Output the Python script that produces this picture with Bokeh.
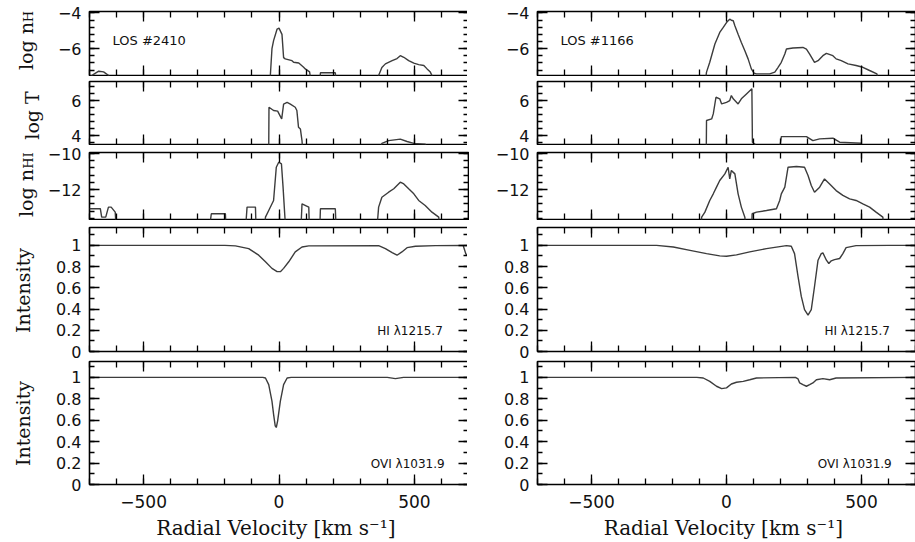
import math
from bokeh.plotting import figure
from bokeh.models import Range1d, LinearAxis, SingleIntervalTicker, CustomJSTickFormatter, Label
from bokeh.layouts import row, column
from bokeh.core.properties import value
from bokeh.embed import file_html
from bokeh.resources import INLINE

# ---------------- data ----------------
# LOS #2410 (left column)
l_nH_v = [-700, -685, -666, -648, -629, -620, -40, -32, -26, -20, -7, 0, 11, 17, 23, 48, 54, 73, 91, 97,
          113, 120, 150, 153, 208, 212, 360, 368, 380, 393, 418, 436, 448, 461, 479, 498, 516, 535, 547, 559,
          565, 575, 700]
l_nH = [-7.6, -7.44, -7.26, -7.3, -7.5, -8, -8, -7.5, -6.0, -5.55, -4.9, -4.85, -5.2, -6.5, -6.57, -6.67, -6.76, -6.8, -7.04, -7.13,
        -7.3, -8, -8, -7.35, -7.35, -8, -8, -7.5, -7.05, -6.85, -6.67, -6.55, -6.39, -6.48, -6.67, -6.81, -6.89, -6.94, -7.13, -7.31,
        -7.5, -8, -8]

l_T_v = [-700, -38, -37, -20, -5, 5, 10, 17, 30, 42, 60, 66, 72, 79, 85, 88, 370, 380, 405, 448,
         473, 498, 540, 560, 700]
l_T = [3.0, 3.0, 5.62, 5.43, 5.4, 5.1, 4.95, 5.8, 5.9, 5.8, 5.62, 5.43, 4.48, 4.38, 3.7, 3.0, 3.0, 3.55, 3.71, 3.8,
       3.66, 3.55, 3.51, 3.0, 3.0]

l_nHI_v = [-700, -697, -660, -655, -640, -630, -620, -605, -600, -260, -250, -247, -198, -195, -125, -118, -87, -84,
           -55, -50, -38, -20, -10, -1, 9, 15, 21, 26, 80, 85, 110, 113, 150, 153, 208, 212,
           360, 368, 380, 405, 424, 448, 461, 479, 498, 516, 540, 565, 590, 596, 700]
l_nHI = [-13.07, -13.07, -13.07, -13.54, -13.54, -12.98, -12.98, -13.26, -14.5, -14.5, -13.35, -13.35, -13.35, -14.5, -14.5, -12.98, -12.98, -14.5,
         -14.5, -13.54, -13.17, -12.61, -10.76, -10.48, -10.57, -11.87, -13.35, -14.5, -14.5, -12.8, -12.98, -14.5, -14.5, -13.07, -13.07, -14.5,
         -14.5, -12.98, -12.43, -12.15, -11.96, -11.59, -11.69, -11.96, -12.24, -12.61, -12.89, -13.26, -13.54, -14.5, -14.5]

l_HI_v = [-700, -200, -161, -112, -75, -50, -26, -7, 5, 17, 36, 60, 85, 110, 368, 393, 418, 436, 454, 473,
          504, 578, 680, 690, 700]
l_HI = [1.0, 1.0, 0.995, 0.969, 0.907, 0.845, 0.783, 0.752, 0.752, 0.783, 0.845, 0.938, 0.984, 0.995, 0.997, 0.969, 0.932, 0.907, 0.938, 0.978,
        0.991, 0.997, 1.0, 0.92, 0.9]

l_OVI_v = [-700, -60, -50, -38, -26, -20, -14, -10, -5, 5, 17, 30, 45, 400, 430, 460, 700]
l_OVI = [1.0, 1.0, 0.994, 0.932, 0.778, 0.655, 0.548, 0.532, 0.594, 0.778, 0.932, 0.994, 1.0, 1.0, 0.988, 1.0, 1.0]

# LOS #1166 (right column)
r_nH_v = [-700, -80, -74, -62, -43, -25, -12, 0, 6, 12, 18, 25, 31, 43, 55, 68, 80, 92, 102, 111,
          160, 179, 191, 203, 216, 222, 246, 283, 296, 308, 326, 339, 357, 370, 394, 406, 425, 450, 480, 505,
          530, 557, 565, 700]
r_nH = [-8, -8, -7.31, -6.76, -5.74, -5.09, -4.81, -4.54, -4.44, -4.35, -4.41, -4.44, -4.72, -5.19, -5.65, -6.11, -6.57, -7.13, -7.37, -7.41,
        -7.41, -7.31, -7.04, -6.76, -6.3, -6.02, -5.96, -5.93, -6.02, -6.3, -6.76, -6.67, -6.39, -6.26, -6.39, -6.57, -6.67, -6.85, -6.94, -7.04,
        -7.22, -7.41, -8, -8]

r_T_v = [-700, -75, -74, -55, -49, -39, -25, -18, 0, 12, 18, 25, 43, 55, 74, 94, 96, 105, 110, 195,
         203, 296, 320, 345, 394, 419, 499, 505, 700]
r_T = [3.0, 3.0, 4.86, 4.95, 5.24, 6.19, 6.1, 5.81, 5.9, 6.0, 6.29, 6.1, 5.81, 6.1, 6.38, 6.67, 3.62, 3.52, 3.0, 3.0,
       3.94, 3.94, 3.71, 3.81, 3.85, 3.62, 3.56, 3.0, 3.0]

r_nHI_v = [-700, -95, -92, -80, -62, -49, -37, -25, -6, 6, 12, 18, 31, 43, 55, 68, 72, 92, 95, 111,
           148, 185, 197, 203, 216, 228, 259, 289, 302, 314, 326, 345, 363, 382, 406, 431, 456, 480, 505, 530,
           554, 579, 585, 700]
r_nHI = [-14.5, -14.5, -13.54, -13.26, -12.61, -12.24, -11.87, -11.5, -11.13, -10.76, -11.41, -10.94, -11.13, -12.24, -12.98, -13.54, -14.5, -14.5, -13.35, -13.26,
         -13.17, -13.07, -12.61, -12.24, -11.87, -10.76, -10.72, -10.76, -11.22, -11.78, -12.15, -11.87, -11.41, -11.69, -12.06, -12.33, -12.52, -12.61, -12.8, -12.98,
         -13.26, -13.54, -14.5, -14.5]

r_HI_v = [-700, -259, -197, -135, -74, -25, 0, 37, 86, 148, 222, 240, 252, 265, 277, 289, 302, 314, 326, 339,
          351, 357, 370, 379, 388, 400, 419, 431, 443, 480, 604, 700]
r_HI = [1.0, 1.0, 0.984, 0.953, 0.922, 0.901, 0.897, 0.91, 0.938, 0.969, 0.997, 0.991, 0.922, 0.705, 0.519, 0.394, 0.342, 0.394, 0.612, 0.86,
        0.922, 0.929, 0.86, 0.829, 0.854, 0.866, 0.876, 0.922, 0.978, 0.997, 1.0, 1.0]

r_OVI_v = [-700, -110, -86, -62, -37, -18, 0, 18, 37, 62, 86, 111, 255, 265, 271, 283, 296, 308, 320, 333,
           357, 382, 406, 700]
r_OVI = [1.0, 1.0, 0.994, 0.963, 0.917, 0.895, 0.902, 0.938, 0.954, 0.963, 0.978, 0.994, 1.0, 0.985, 0.948, 0.932, 0.917, 0.932, 0.948, 0.978,
         0.988, 0.978, 0.994, 1.0]

los_names = ["LOS  #2410", "LOS  #1166"]
line_names = ["HI \u03bb1215.7", "OVI \u03bb1031.9"]
x_title = "Radial Velocity  [km s\u207b\u00b9]"
# y titles: (main text, subscript)
y_titles = [("log n", "H"), ("log T", None), ("log n", "HI"), ("Intensity", None), ("Intensity", None)]

# ---------------- styling / layout ----------------
X_START, X_END = -700, 700
TICK_FONT = "DejaVu Sans"
TITLE_FONT = "DejaVu Serif"
CURVE_COLOR = "#3c3c3c"
TXT = "#111111"
W_T = 44          # width of the strip that holds the y titles

FMT = CustomJSTickFormatter(code="""
const v = Math.round(tick * 10) / 10;
return v < 0 ? '\u2212' + String(-v) : String(v);
""")

# panel specs: y range, tick interval, minor count, frame height, border top, border bottom
PANELS = [
    dict(yr=(-7.5, -3.92), iv=2, nm=5, fh=64, bt=11, bb=1),
    dict(yr=(3.49, 7.09), iv=2, nm=5, fh=63, bt=5, bb=1),
    dict(yr=(-13.67, -9.94), iv=2, nm=5, fh=67, bt=7, bb=1),
    dict(yr=(0, 1.168), iv=0.2, nm=2, fh=124, bt=7, bb=9),
    dict(yr=(0, 1.148), iv=0.2, nm=2, fh=123, bt=1, bb=57),
]
# y-title placement inside the strip: (x centre, y centre from bottom of the panel's figure)
TITLE_POS = [(25, 36), (31, 30), (25, 36), (22, 70), (22, 118)]


def make_axis(ticker, labels, x_axis):
    ax = LinearAxis(ticker=ticker, formatter=FMT)
    ax.axis_line_color = None
    ax.major_tick_in = 10
    ax.major_tick_out = 0
    ax.minor_tick_in = 6 if x_axis else 5
    ax.minor_tick_out = 0
    ax.major_tick_line_color = "black"
    ax.minor_tick_line_color = "black"
    ax.major_tick_line_width = 1.3
    ax.minor_tick_line_width = 1.3
    if labels:
        ax.major_label_text_font = TICK_FONT
        ax.major_label_text_font_size = "17px" if x_axis else "16px"
        ax.major_label_text_color = TXT
        ax.major_label_standoff = 10 if x_axis else 8
    else:
        ax.major_label_text_font_size = "0px"
        ax.major_label_text_color = None
        ax.major_label_standoff = 0
    return ax


def make_panel(spec, xs, ys, frame_w, bl, br, bottom_labels):
    p = figure(frame_width=frame_w, frame_height=spec["fh"],
               x_range=Range1d(X_START, X_END), y_range=Range1d(*spec["yr"]),
               x_axis_type=None, y_axis_type=None,
               output_backend="svg", toolbar_location=None,
               min_border_top=spec["bt"], min_border_bottom=spec["bb"],
               min_border_left=bl, min_border_right=br)
    p.grid.visible = False
    p.outline_line_color = "black"
    p.outline_line_width = 1.6
    p.background_fill_color = "white"
    p.border_fill_color = "white"
    xt = SingleIntervalTicker(interval=500, num_minor_ticks=5)
    yt = SingleIntervalTicker(interval=spec["iv"], num_minor_ticks=spec["nm"])
    bx = make_axis(xt, bottom_labels, True)
    if bottom_labels:
        bx.axis_label = x_title
        bx.axis_label_text_font = TITLE_FONT
        bx.axis_label_text_font_size = "20px"
        bx.axis_label_text_font_style = "normal"
        bx.axis_label_text_color = TXT
        bx.axis_label_standoff = 5
    p.add_layout(bx, "below")
    p.add_layout(make_axis(xt, False, True), "above")
    p.add_layout(make_axis(yt, True, False), "left")
    p.add_layout(make_axis(yt, False, False), "right")
    p.line(x=xs, y=ys, line_color=CURVE_COLOR, line_width=1.4)
    return p


def title_fig(spec, title, pos):
    h = spec["bt"] + spec["fh"] + spec["bb"]
    t = figure(frame_width=W_T, frame_height=h, x_range=Range1d(0, W_T), y_range=Range1d(0, h),
               x_axis_type=None, y_axis_type=None, output_backend="svg", toolbar_location=None,
               min_border=0)
    t.grid.visible = False
    t.outline_line_color = None
    main, sub = title
    xc, yc = pos
    w_main = 48 if sub else 0
    w_sub = (11 if sub == "H" else 17) if sub else 0
    t.text(x=[xc], y=[yc - w_sub / 2], text=[main], angle=math.pi / 2,
           text_align="center", text_baseline="middle",
           text_font=value(TITLE_FONT), text_font_size=value("19px"), text_color=TXT)
    if sub:
        t.text(x=[xc + 3], y=[yc + w_main / 2], text=[sub], angle=math.pi / 2,
               text_align="center", text_baseline="middle",
               text_font=value(TITLE_FONT), text_font_size=value("13px"), text_color=TXT)
    return t


def build_column(series, frame_w, bl, br, los):
    figs = []
    for i, (spec, (xs, ys)) in enumerate(zip(PANELS, series)):
        figs.append(make_panel(spec, xs, ys, frame_w, bl, br, i == 4))
    figs[0].add_layout(Label(x=-615, y=-5.55, text=los, text_align="left", text_baseline="middle",
                             text_font=TICK_FONT, text_font_size="13px", text_color=TXT))
    figs[3].add_layout(Label(x=605, y=0.19, text=line_names[0], text_align="right", text_baseline="middle",
                             text_font=TICK_FONT, text_font_size="12px", text_color=TXT))
    figs[4].add_layout(Label(x=612, y=0.195, text=line_names[1], text_align="right", text_baseline="middle",
                             text_font=TICK_FONT, text_font_size="12px", text_color=TXT))
    return column(*figs, spacing=0)


titles = column(*[title_fig(s, t, pos) for s, t, pos in zip(PANELS, y_titles, TITLE_POS)], spacing=0)
left = build_column([(l_nH_v, l_nH), (l_T_v, l_T), (l_nHI_v, l_nHI), (l_HI_v, l_HI), (l_OVI_v, l_OVI)],
                    379, 87 - W_T, 1, los_names[0])
right = build_column([(r_nH_v, r_nH), (r_T_v, r_T), (r_nHI_v, r_nHI), (r_HI_v, r_HI), (r_OVI_v, r_OVI)],
                     378, 68, 1, los_names[1])

layout = row(titles, left, right, spacing=0)

with open("out.html", "w", encoding="utf-8") as f:
    f.write(file_html(layout, INLINE, title="LOS spectra"))
